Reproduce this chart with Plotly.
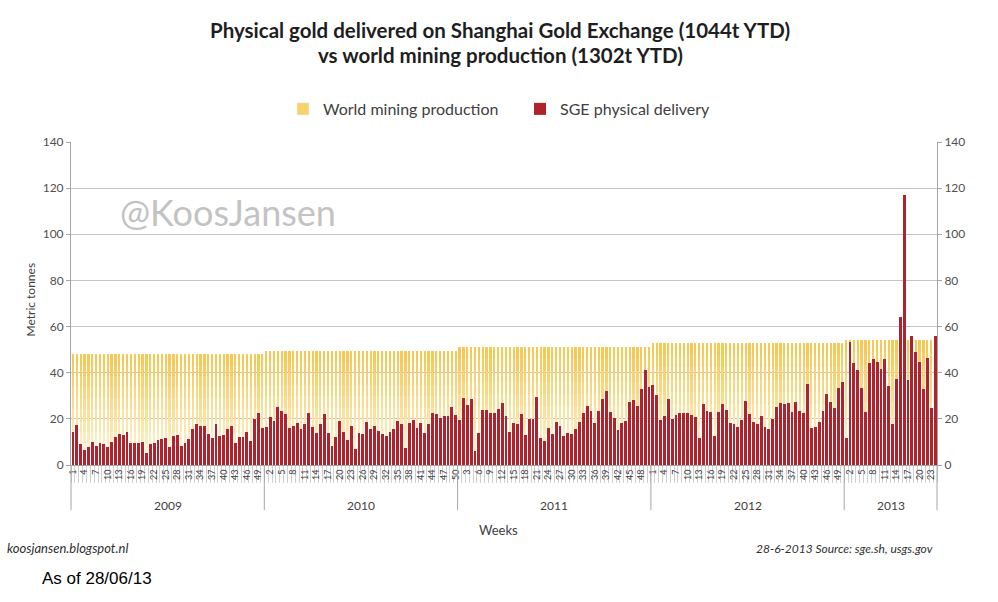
import plotly.graph_objects as go

# ---------------- data ----------------
years = ["2009", "2010", "2011", "2012", "2013"]

sge_2009 = [14.5, 17.3, 9, 6.5, 7.7, 10, 8.2, 9.7, 9.1, 7.7,
            10, 12.3, 13.3, 13, 14.5, 9.7, 9.7, 9.7, 10, 5.3,
            9, 9.7, 10.8, 11.3, 11.6, 8, 12.6, 13, 8.2, 9.7,
            11.1, 15.5, 17.6, 16.9, 16.9, 13.4, 11.6, 17.6, 12.6, 13,
            15.5, 16.9, 9.7, 12.3, 12.3, 14.5, 10.5, 19.8, 22.7, 16.2]
sge_2010 = [16.6, 21, 19.2, 25, 23.5, 22, 16.2, 16.9, 18, 15.5,
            17.6, 22.7, 16.3, 13.7, 17.6, 22.3, 14, 8.2, 12, 19.2,
            14.5, 10.8, 17, 6.9, 13.7, 13.3, 18.8, 15.5, 17, 14.9,
            13.3, 12.6, 14.5, 15.5, 19.2, 17.8, 7.5, 18, 19.5, 16.2,
            18.4, 14, 17.8, 22.4, 22, 20.2, 21.1, 21.2, 25, 21.7]
sge_2011 = [19.5, 28.9, 26, 28.5, 6.2, 13.7, 23.8, 23.8, 22.7, 22.4,
            24.3, 27, 21.2, 14.2, 18, 17.8, 22.1, 13, 19.9, 19.9,
            29.6, 11.6, 10.4, 15.9, 13.3, 18.8, 16.9, 12.6, 13.7, 13.3,
            15.5, 18.8, 22.7, 25.6, 23.6, 18.4, 23.6, 28.5, 32.2, 22.8,
            20.2, 15.2, 18, 19.2, 27.2, 28.2, 25.7, 33, 41, 33.7]
sge_2012 = [34.7, 30.3, 19.5, 21.2, 28.5, 19.8, 21.7, 22.4, 22.4, 22.4,
            21.7, 21, 11.6, 26.4, 23.6, 23.1, 12.6, 23.1, 26.3, 23.8,
            18.4, 17.8, 16.3, 19.5, 27.9, 22.1, 18.8, 17.8, 21.2, 16.3,
            15.5, 19.8, 25, 26.7, 26.4, 26.7, 23.1, 27.2, 23.6, 22.4,
            35, 15.9, 16.6, 18.8, 23.6, 30.8, 27.5, 24.6, 33.2, 36.1]
sge_2013 = [11.8, 53.5, 44, 41.2, 33.5, 22.8, 44, 46, 44.8, 41.5,
            45.8, 34.2, 17.6, 37.3, 64, 117, 36.8, 55.9, 48.8, 44.8,
            33, 46.5, 24.6, 56]

mining_per_year = [48.2, 49.6, 51.2, 52.9, 54.25]

# ---------------- build series ----------------
sge_by_year = [sge_2009, sge_2010, sge_2011, sge_2012, sge_2013]
x_idx, sge, mining, week_lbl, year_bounds = [], [], [], [], [0]
for yi, vals in enumerate(sge_by_year):
    for w, v in enumerate(vals, start=1):
        x_idx.append(len(x_idx))
        sge.append(v)
        mining.append(mining_per_year[yi])
        week_lbl.append(str(w))
    year_bounds.append(len(x_idx))
N = len(x_idx)

tickvals = x_idx[::3]
ticktext = week_lbl[::3]

fig = go.Figure()

# yellow bars with vertical gradient (top darker -> bottom paler)
top_rgb = (246, 200, 84)
bot_rgb = (254, 245, 218)
n_seg = 10
for k in range(n_seg):
    t = k / (n_seg - 1)
    c = tuple(round(top_rgb[j] + (bot_rgb[j] - top_rgb[j]) * t) for j in range(3))
    fig.add_trace(go.Bar(
        x=x_idx, y=[m * (1 - k / n_seg) for m in mining],
        width=0.58, marker=dict(color="rgb(%d,%d,%d)" % c, line_width=0),
        showlegend=False, hoverinfo="skip" if k else None,
        name="World mining production"))

# legend entries
fig.add_trace(go.Bar(x=[None], y=[None], marker_color="#F7D26C",
                     name="World mining production"))
fig.add_trace(go.Bar(x=x_idx, y=sge, width=0.74,
                     marker=dict(color="#B1232C", line_width=0),
                     name="SGE physical delivery"))
# dummy on right axis so it renders
fig.add_trace(go.Scatter(x=[None], y=[None], yaxis="y2", showlegend=False))

font_main = "Lato, 'Open Sans', sans-serif"
axis_col = "#a6a6a6"

ph = 602 - 142 - 137
pw = 998 - 71 - 61
def py(px):  # page pixel y -> paper
    return (465 - px) / ph
def pxx(px):
    return (px - 71) / pw

fig.update_layout(
    width=998, height=602,
    margin=dict(l=71, r=61, t=142, b=137),
    paper_bgcolor="white", plot_bgcolor="white",
    barmode="overlay", bargap=0,
    font=dict(family=font_main, color="#404040"),
    legend=dict(orientation="h", x=pxx(283), xanchor="left", y=py(109), yanchor="middle",
                font=dict(size=16, color="#404040"), bgcolor="rgba(0,0,0,0)",
                traceorder="normal", entrywidth=192, entrywidthmode="pixels"),
    xaxis=dict(range=[-0.5, N - 0.5], tickmode="array", tickvals=tickvals, ticktext=ticktext,
               tickangle=-90, tickfont=dict(size=9, color="#404040"), ticks="",
               showline=True, linecolor=axis_col, showgrid=False, zeroline=False,
               minor=dict(ticks="outside", tick0=-0.5, dtick=1, ticklen=17,
                          tickcolor="#d0d0d0", tickwidth=1)),
    yaxis=dict(range=[0, 140], dtick=20, tick0=0, gridcolor="#c4c4c4", showline=True,
               linecolor=axis_col, ticks="outside", ticklen=4, tickcolor=axis_col,
               tickfont=dict(size=12, color="#505050"), zeroline=False),
    yaxis2=dict(range=[0, 140], dtick=20, tick0=0, overlaying="y", side="right",
                showgrid=False, showline=True, linecolor=axis_col, ticks="outside",
                ticklen=4, tickcolor=axis_col, tickfont=dict(size=12, color="#505050"),
                zeroline=False),
)

# year separators and labels
shapes = []
for b in year_bounds:
    xp = b / N
    shapes.append(dict(type="line", xref="paper", yref="paper", x0=xp, x1=xp,
                       y0=0, y1=-0.14, line=dict(color=axis_col, width=1)))
fig.update_layout(shapes=shapes)

ann = []
for yi, yr in enumerate(years):
    cx = (year_bounds[yi] + year_bounds[yi + 1] - 1) / 2
    ann.append(dict(x=cx, xref="x", y=py(505), yref="paper", text=yr, showarrow=False,
                    font=dict(size=12, color="#404040"), yanchor="middle"))

ann += [
    dict(x=pxx(500), xref="paper", y=py(30), yref="paper", yanchor="middle",
         text="<b>Physical gold delivered on Shanghai Gold Exchange (1044t YTD)</b>",
         showarrow=False, font=dict(size=20.5, color="#1e1e1e")),
    dict(x=pxx(500), xref="paper", y=py(55), yref="paper", yanchor="middle",
         text="<b>vs world mining production (1302t YTD)</b>",
         showarrow=False, font=dict(size=20.5, color="#1e1e1e")),
    dict(x=pxx(118), xref="paper", xanchor="left", y=py(212), yref="paper", yanchor="middle",
         text="@KoosJansen", showarrow=False, font=dict(size=36, color="#c3c3c3")),
    dict(x=pxx(20), xref="paper", y=py(300), yref="paper", textangle=-90,
         text="Metric tonnes", showarrow=False, font=dict(size=12, color="#404040")),
    dict(x=pxx(498), xref="paper", y=py(530), yref="paper", yanchor="middle",
         text="Weeks", showarrow=False, font=dict(size=13, color="#404040")),
    dict(x=pxx(5), xref="paper", xanchor="left", y=py(548), yref="paper", yanchor="middle",
         text="<i>koosjansen.blogspot.nl</i>", showarrow=False,
         font=dict(size=13, color="#303030")),
    dict(x=pxx(935), xref="paper", xanchor="right", y=py(548), yref="paper", yanchor="middle",
         text="<i>28-6-2013 Source: sge.sh, usgs.gov</i>", showarrow=False,
         font=dict(size=12, color="#303030")),
    dict(x=pxx(40), xref="paper", xanchor="left", y=py(578), yref="paper", yanchor="middle",
         text="As of 28/06/13", showarrow=False,
         font=dict(size=17, color="#000000", family="'Liberation Sans', Arial, sans-serif")),
]
fig.update_layout(annotations=ann)

fig.write_html("out.html", config={"displayModeBar": False},
               post_script="document.body.style.margin='0px';")
